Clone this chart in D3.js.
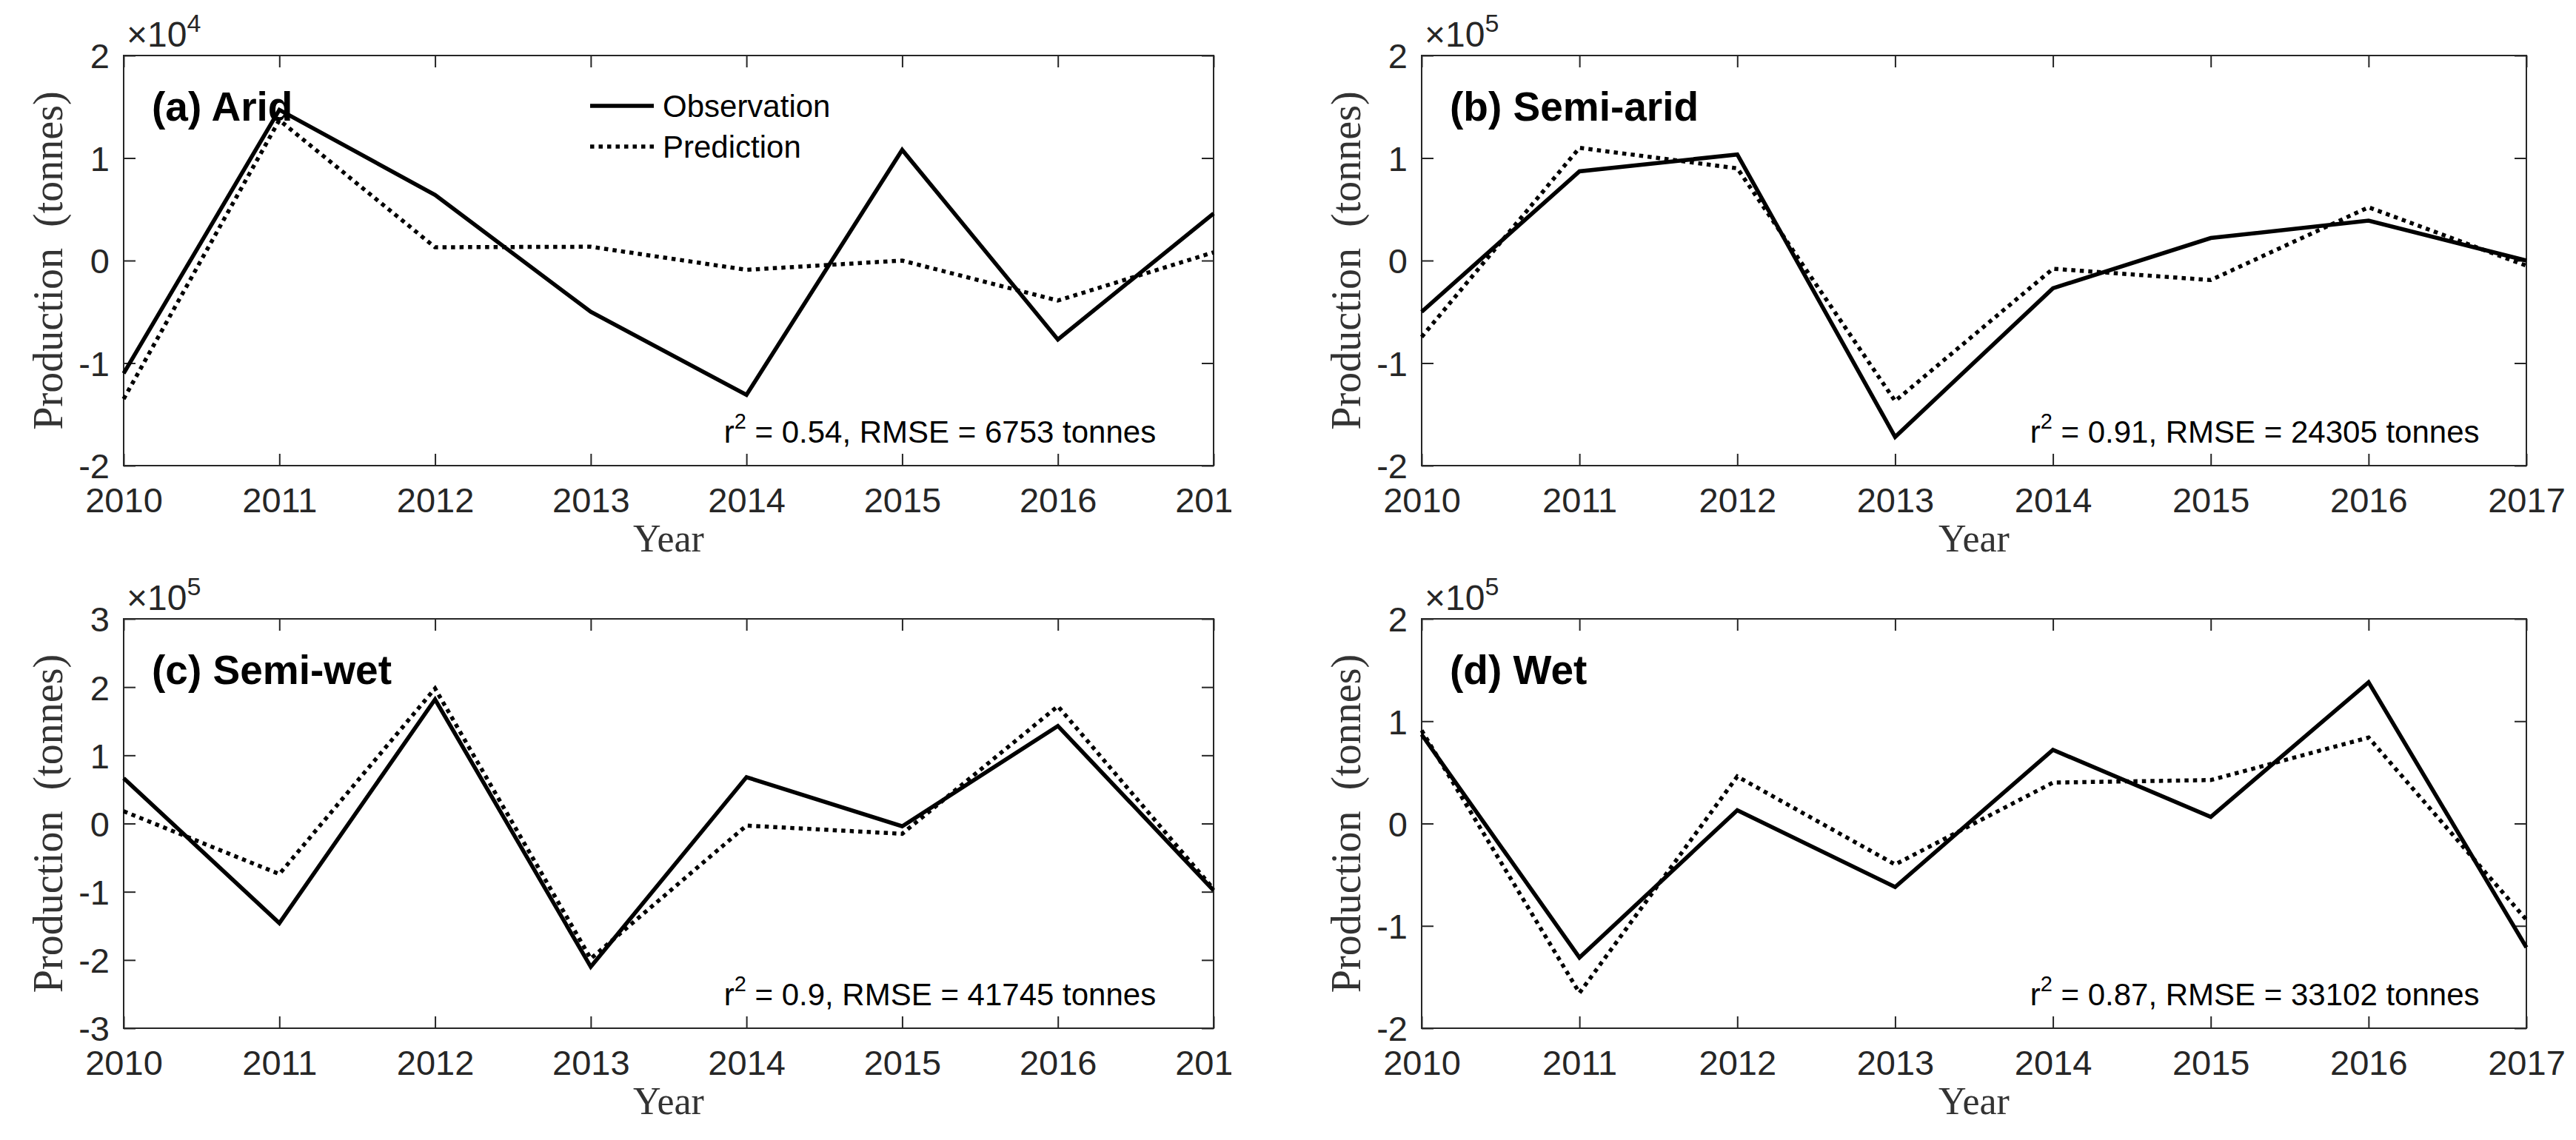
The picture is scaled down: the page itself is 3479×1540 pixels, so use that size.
<!DOCTYPE html>
<html>
<head>
<meta charset="utf-8">
<script src="https://cdn.jsdelivr.net/npm/d3@7"></script>
<style>
  body { margin: 0; background: #fff; }
  svg { display: block; }
</style>
</head>
<body>
<div id="chart"></div>
<script>
// years on the x axis
const years = [2010, 2011, 2012, 2013, 2014, 2015, 2016, 2017];

// production anomalies (tonnes)
const aridObs      = [-11000, 14700, 6400, -5000, -13100, 10800, -7700, 4600];
const aridPred     = [-13500, 13700, 1300, 1350, -900, 0, -3900, 800];
const semiAridObs  = [-50000, 87000, 103500, -172000, -27000, 22000, 39000, 0];
const semiAridPred = [-74500, 110000, 90000, -137000, -8000, -19000, 52000, -5000];
const semiWetObs   = [66500, -146000, 182000, -210000, 68000, -4000, 143000, -98000];
const semiWetPred  = [18000, -74000, 198000, -198000, -3000, -15000, 172000, -96000];
const wetObs       = [87000, -131000, 13000, -62000, 72000, 6500, 138000, -121000];
const wetPred      = [91000, -165500, 46000, -40000, 40000, 42500, 84000, -94000];

// y tick values in units of the exponent
const ticks2 = [-2, -1, 0, 1, 2];
const ticks3 = [-3, -2, -1, 0, 1, 2, 3];

const panels = [
  { title: "(a) Arid", obs: aridObs, pred: aridPred, exp: 4, ticks: ticks2, r2: "0.54", rmse: "6753",
    left: 167, right: 1639, top: 75, bottom: 629, clip: true, legend: true },
  { title: "(b) Semi-arid", obs: semiAridObs, pred: semiAridPred, exp: 5, ticks: ticks2, r2: "0.91", rmse: "24305",
    left: 1920, right: 3412, top: 75, bottom: 629 },
  { title: "(c) Semi-wet", obs: semiWetObs, pred: semiWetPred, exp: 5, ticks: ticks3, r2: "0.9", rmse: "41745",
    left: 167, right: 1639, top: 836, bottom: 1389, clip: true },
  { title: "(d) Wet", obs: wetObs, pred: wetPred, exp: 5, ticks: ticks2, r2: "0.87", rmse: "33102",
    left: 1920, right: 3412, top: 836, bottom: 1389 }
];

const W = 3479, H = 1540;
const axisCol = "#262626";
const sans = "'Liberation Sans', Arial, Helvetica, sans-serif";
const serif = "'Liberation Serif', 'Times New Roman', serif";

const svg = d3.select("#chart").append("svg")
  .attr("width", W).attr("height", H)
  .attr("viewBox", `0 0 ${W} ${H}`);

// left-hand panels are cut off just after the box (as in the source figure)
svg.append("defs").append("clipPath").attr("id", "leftcol")
  .append("rect").attr("x", 0).attr("y", 0).attr("width", 1663).attr("height", H);

panels.forEach(function(p) {
  const g = svg.append("g");
  if (p.clip) g.attr("clip-path", "url(#leftcol)");

  const k = Math.pow(10, p.exp);
  const yMax = d3.max(p.ticks);

  const x = d3.scaleLinear().domain([2010, 2017]).range([p.left, p.right]);
  const y = d3.scaleLinear().domain([-yMax * k, yMax * k]).range([p.bottom, p.top]);

  const tickLen = 16;

  // bottom axis with inward ticks
  g.append("g")
    .attr("transform", `translate(0,${p.bottom})`)
    .call(d3.axisBottom(x).tickValues(years).tickFormat(d => String(d))
      .tickSizeInner(-tickLen).tickSizeOuter(0).tickPadding(63))
    .call(s => s.select(".domain").remove())
    .call(s => s.selectAll("line").attr("stroke", axisCol).attr("stroke-width", 2))
    .call(s => s.selectAll("text").attr("font-family", sans).attr("font-size", 47)
      .attr("fill", axisCol).attr("dy", "0"));

  // top axis ticks only
  g.append("g")
    .attr("transform", `translate(0,${p.top})`)
    .call(d3.axisTop(x).tickValues(years).tickFormat("").tickSizeInner(-tickLen).tickSizeOuter(0))
    .call(s => s.select(".domain").remove())
    .call(s => s.selectAll("line").attr("stroke", axisCol).attr("stroke-width", 2));

  // left axis
  g.append("g")
    .attr("transform", `translate(${p.left},0)`)
    .call(d3.axisLeft(y).tickValues(p.ticks.map(t => t * k)).tickFormat(d => String(Math.round(d / k)))
      .tickSizeInner(-tickLen).tickSizeOuter(0).tickPadding(19))
    .call(s => s.select(".domain").remove())
    .call(s => s.selectAll("line").attr("stroke", axisCol).attr("stroke-width", 2))
    .call(s => s.selectAll("text").attr("font-family", sans).attr("font-size", 47)
      .attr("fill", axisCol).attr("dy", "0.36em"));

  // right axis ticks only
  g.append("g")
    .attr("transform", `translate(${p.right},0)`)
    .call(d3.axisRight(y).tickValues(p.ticks.map(t => t * k)).tickFormat("")
      .tickSizeInner(-tickLen).tickSizeOuter(0))
    .call(s => s.select(".domain").remove())
    .call(s => s.selectAll("line").attr("stroke", axisCol).attr("stroke-width", 2));

  // box
  g.append("rect")
    .attr("x", p.left).attr("y", p.top)
    .attr("width", p.right - p.left).attr("height", p.bottom - p.top)
    .attr("fill", "none").attr("stroke", axisCol).attr("stroke-width", 2);

  // exponent label
  const ex = g.append("text")
    .attr("x", p.left + 4).attr("y", p.top - 12)
    .attr("font-family", sans).attr("font-size", 48).attr("fill", axisCol);
  ex.append("tspan").text("\u00d710");
  ex.append("tspan").attr("dy", -20).attr("font-size", 34).text(p.exp);

  // lines
  const line = d3.line().x((d, i) => x(years[i])).y(d => y(d));

  g.append("path").datum(p.obs)
    .attr("d", line).attr("fill", "none")
    .attr("stroke", "#000").attr("stroke-width", 5.5)
    .attr("stroke-linejoin", "miter");

  g.append("path").datum(p.pred)
    .attr("d", line).attr("fill", "none")
    .attr("stroke", "#000").attr("stroke-width", 5.5)
    .attr("stroke-dasharray", "5.5 6");

  // panel title
  g.append("text")
    .attr("x", p.left + 38).attr("y", p.top + 88)
    .attr("font-family", sans).attr("font-weight", "bold").attr("font-size", 55)
    .attr("fill", "#000")
    .text(p.title);

  // fit statistics
  const st = g.append("text")
    .attr("x", x(2013.855)).attr("y", p.bottom - 31)
    .attr("font-family", sans).attr("font-size", 42).attr("fill", "#000");
  st.append("tspan").text("r");
  st.append("tspan").attr("dy", -19).attr("font-size", 29).text("2");
  st.append("tspan").attr("dy", 19).text(` = ${p.r2}, RMSE = ${p.rmse} tonnes`);

  // axis titles
  g.append("text")
    .attr("transform", `translate(${p.left - 83},${(p.top + p.bottom) / 2}) rotate(-90)`)
    .attr("text-anchor", "middle")
    .attr("font-family", serif).attr("font-size", 56).attr("fill", "#333")
    .text("Production\u00a0 (tonnes)");

  g.append("text")
    .attr("x", (p.left + p.right) / 2).attr("y", p.bottom + 116)
    .attr("text-anchor", "middle")
    .attr("font-family", serif).attr("font-size", 52).attr("fill", "#333")
    .text("Year");

  // legend (first panel only)
  if (p.legend) {
    const lg = g.append("g");
    const items = [
      { label: "Observation", dash: null, yy: 143 },
      { label: "Prediction", dash: "5.5 6", yy: 198 }
    ];
    items.forEach(function(it) {
      lg.append("line")
        .attr("x1", 797).attr("x2", 883).attr("y1", it.yy).attr("y2", it.yy)
        .attr("stroke", "#000").attr("stroke-width", 5.5)
        .attr("stroke-dasharray", it.dash);
      lg.append("text")
        .attr("x", 895).attr("y", it.yy + 15)
        .attr("font-family", sans).attr("font-size", 42).attr("fill", "#000")
        .text(it.label);
    });
  }
});
</script>
</body>
</html>
